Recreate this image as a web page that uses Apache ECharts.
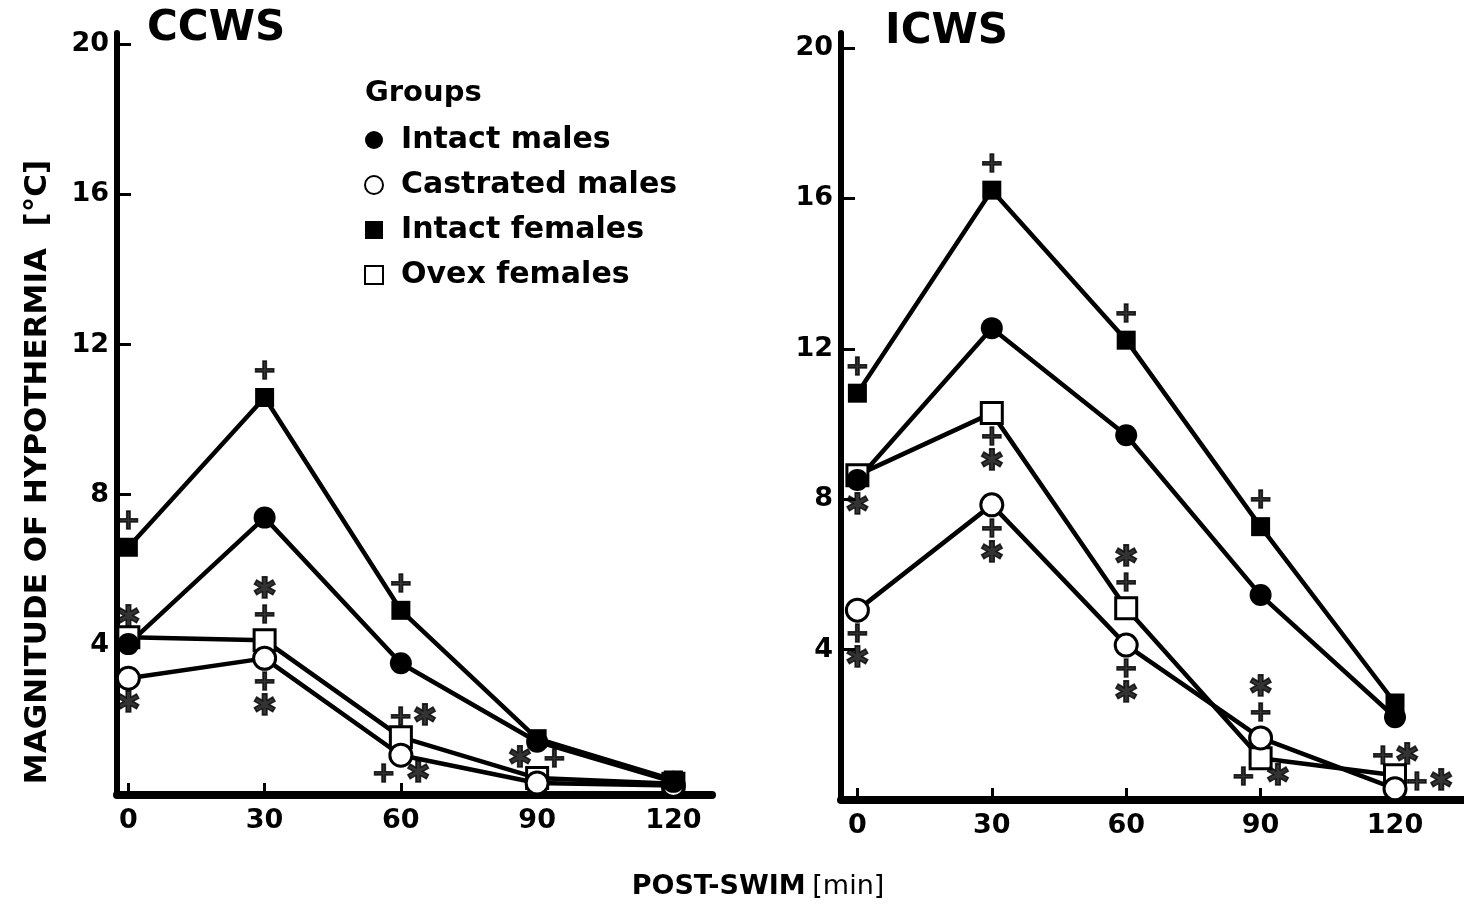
<!DOCTYPE html>
<html>
<head>
<meta charset="utf-8">
<script src="https://cdn.jsdelivr.net/npm/echarts@6/dist/echarts.min.js"></script>
<style>
  html, body { margin: 0; padding: 0; background: #fff; }
  #chart { width: 1464px; height: 914px; }
</style>
</head>
<body>
<div id="chart"></div>
<script>
// Post-swim sampling times (min)
const minutes = [0, 30, 60, 90, 120];
const yTicks = [4, 8, 12, 16, 20];
const groupNames = ['Intact males', 'Castrated males', 'Intact females', 'Ovex females'];

// Magnitude of hypothermia (°C), CCWS
const ccwsIntactMales     = [4.02, 7.39, 3.51, 1.42, 0.35];
const ccwsCastratedMales  = [3.11, 3.64, 1.06, 0.32, 0.25];
const ccwsIntactFemales   = [6.60, 10.59, 4.92, 1.50, 0.40];
const ccwsOvexFemales     = [4.20, 4.12, 1.54, 0.45, 0.30];

// Magnitude of hypothermia (°C), ICWS
const icwsIntactMales     = [8.51, 12.55, 9.70, 5.45, 2.20];
const icwsCastratedMales  = [5.05, 7.85, 4.12, 1.65, 0.30];
const icwsIntactFemales   = [10.82, 16.22, 12.23, 7.27, 2.58];
const icwsOvexFemales     = [8.64, 10.29, 5.10, 1.11, 0.66];

// Significance marks: [group, minute, text, placement]
const ccwsMarks = [
  ['Intact females', 0, '+', 'n'],
  ['Intact females', 30, '+', 'n'],
  ['Intact females', 60, '+', 'n'],
  ['Ovex females', 0, '✱', 'n2'],
  ['Castrated males', 0, '✱', 's'],
  ['Ovex females', 30, '✱\n+', 'nn'],
  ['Castrated males', 30, '+\n✱', 'ss'],
  ['Ovex females', 60, '+✱', 'ne'],
  ['Castrated males', 60, '+ ✱', 's2'],
  ['Ovex females', 90, '✱ +', 'n2']
];
const icwsMarks = [
  ['Intact females', 0, '+', 'n'],
  ['Intact females', 30, '+', 'n'],
  ['Intact females', 60, '+', 'n'],
  ['Intact females', 90, '+', 'n'],
  ['Intact males', 0, '✱', 's'],
  ['Castrated males', 0, '+\n✱', 'ss'],
  ['Ovex females', 30, '+\n✱', 'ss'],
  ['Castrated males', 30, '+\n✱', 'ss'],
  ['Ovex females', 60, '✱\n+', 'nn'],
  ['Castrated males', 60, '+\n✱', 'ss'],
  ['Castrated males', 90, '✱\n+', 'nn'],
  ['Ovex females', 90, '+ ✱', 's2'],
  ['Ovex females', 120, '+✱', 'n2'],
  ['Castrated males', 120, '+✱', 'e']
];

const FONT = '"DejaVu Sans", "Liberation Sans", Arial, sans-serif';
const SQUARE = 'path://M0,0H10V10H0Z';

// pixel offsets of a mark relative to its point
const PLACE = {
  n: [0, -26], s: [0, 26], nn: [0, -37], ss: [0, 37],
  n2: [0, -19], s2: [0, 19], ne: [12, -20], e: [34, -6]
};

const groupStyle = {
  'Intact males':    { symbol: 'circle', size: 22, fill: '#000', icon: 'circle' },
  'Castrated males': { symbol: 'circle', size: 22, fill: '#fff', icon: 'circle' },
  'Intact females':  { symbol: 'rect',   size: 19, fill: '#000', icon: SQUARE },
  'Ovex females':    { symbol: 'rect',   size: 21, fill: '#fff', icon: SQUARE }
};

const panels = [
  {
    values: {
      'Intact males': ccwsIntactMales, 'Castrated males': ccwsCastratedMales,
      'Intact females': ccwsIntactFemales, 'Ovex females': ccwsOvexFemales
    },
    marks: ccwsMarks
  },
  {
    values: {
      'Intact males': icwsIntactMales, 'Castrated males': icwsCastratedMales,
      'Intact females': icwsIntactFemales, 'Ovex females': icwsOvexFemales
    },
    marks: icwsMarks
  }
];

// drawing order: open symbols underneath, filled on top
const drawOrder = ['Ovex females', 'Castrated males', 'Intact females', 'Intact males'];

const series = [];
panels.forEach((panel, p) => {
  drawOrder.forEach(name => {
    const st = groupStyle[name];
    series.push({
      name: name,
      type: 'line',
      xAxisIndex: p,
      yAxisIndex: p,
      data: minutes.map((t, i) => [t, panel.values[name][i]]),
      symbol: st.symbol,
      symbolSize: st.size,
      showAllSymbol: true,
      lineStyle: { color: '#000', width: 4.5 },
      itemStyle: { color: st.fill, borderColor: '#000', borderWidth: st.fill === '#fff' ? 3 : 0, opacity: 1 },
      emphasis: { disabled: true },
      z: 3
    });
  });
  series.push({
    type: 'scatter',
    xAxisIndex: p,
    yAxisIndex: p,
    silent: true,
    symbolSize: 1,
    itemStyle: { color: 'rgba(0,0,0,0)' },
    z: 5,
    label: {
      show: true,
      position: 'inside',
      color: '#000',
      textBorderColor: '#000',
      textBorderWidth: 1.6,
      fontFamily: FONT,
      fontWeight: 'bold',
      fontSize: 29,
      lineHeight: 25,
      align: 'center',
      verticalAlign: 'middle'
    },
    data: panel.marks.map(([g, t, txt, place]) => ({
      value: [t, panel.values[g][minutes.indexOf(t)]],
      label: { formatter: txt, offset: PLACE[place] }
    }))
  });
});

function xAxisFor(grid, min, max) {
  return {
    type: 'value', gridIndex: grid, min: min, max: max,
    splitLine: { show: false },
    axisLine: { show: true, onZero: false, lineStyle: { color: '#000', width: 8 } },
    axisTick: { show: true, inside: true, length: 12, customValues: minutes, lineStyle: { color: '#000', width: 3 } },
    axisLabel: { customValues: minutes, margin: 12, color: '#000', fontFamily: FONT, fontWeight: 'bold', fontSize: 27 }
  };
}
function yAxisFor(grid, max) {
  return {
    type: 'value', gridIndex: grid, min: 0, max: max,
    splitLine: { show: false },
    axisLine: { show: true, onZero: false, lineStyle: { color: '#000', width: 6 } },
    axisTick: { show: true, inside: true, length: 14, customValues: yTicks, lineStyle: { color: '#000', width: 3 } },
    axisLabel: { customValues: yTicks, margin: 8, color: '#000', fontFamily: FONT, fontWeight: 'bold', fontSize: 27 }
  };
}

const chart = echarts.init(document.getElementById('chart'), null, { renderer: 'canvas' });
chart.setOption({
  backgroundColor: '#fff',
  animation: false,
  grid: [
    { left: 117, top: 33, width: 595, height: 762 },
    { left: 841, top: 33, width: 623, height: 767 }
  ],
  xAxis: [xAxisFor(0, -2.5, 128.5), xAxisFor(1, -3.66, 135.4)],
  yAxis: [yAxisFor(0, 20.3), yAxisFor(1, 20.4)],
  legend: {
    orient: 'vertical',
    left: 359,
    top: 120,
    itemWidth: 44,
    itemHeight: 18,
    itemGap: 15,
    selectedMode: false,
    symbolKeepAspect: true,
    textStyle: { color: '#000', fontFamily: FONT, fontWeight: 'bold', fontSize: 30, lineHeight: 30 },
    data: groupNames.map(n => ({ name: n, icon: groupStyle[n].icon }))
  },
  graphic: [
    { type: 'text', x: 147, y: 29, style: { text: 'CCWS', fill: '#000', font: 'bold 42px ' + FONT, verticalAlign: 'middle' } },
    { type: 'text', x: 885, y: 32, style: { text: 'ICWS', fill: '#000', font: 'bold 42px ' + FONT, verticalAlign: 'middle' } },
    { type: 'text', x: 365, y: 93, style: { text: 'Groups', fill: '#000', font: 'bold 29px ' + FONT, verticalAlign: 'middle' } },
    {
      type: 'text', x: 38, y: 472, rotation: Math.PI / 2,
      style: { text: 'MAGNITUDE OF HYPOTHERMIA  [°C]', fill: '#000', font: 'bold 31px ' + FONT, align: 'center', verticalAlign: 'middle' }
    },
    {
      type: 'text', x: 758, y: 887,
      style: {
        text: '{b|POST-SWIM}  {n|[min]}', align: 'center', verticalAlign: 'middle',
        rich: {
          b: { fill: '#000', fontFamily: FONT, fontWeight: 'bold', fontSize: 27 },
          n: { fill: '#000', fontFamily: FONT, fontWeight: 'normal', fontSize: 27 }
        }
      }
    }
  ],
  series: series
});
</script>
</body>
</html>
